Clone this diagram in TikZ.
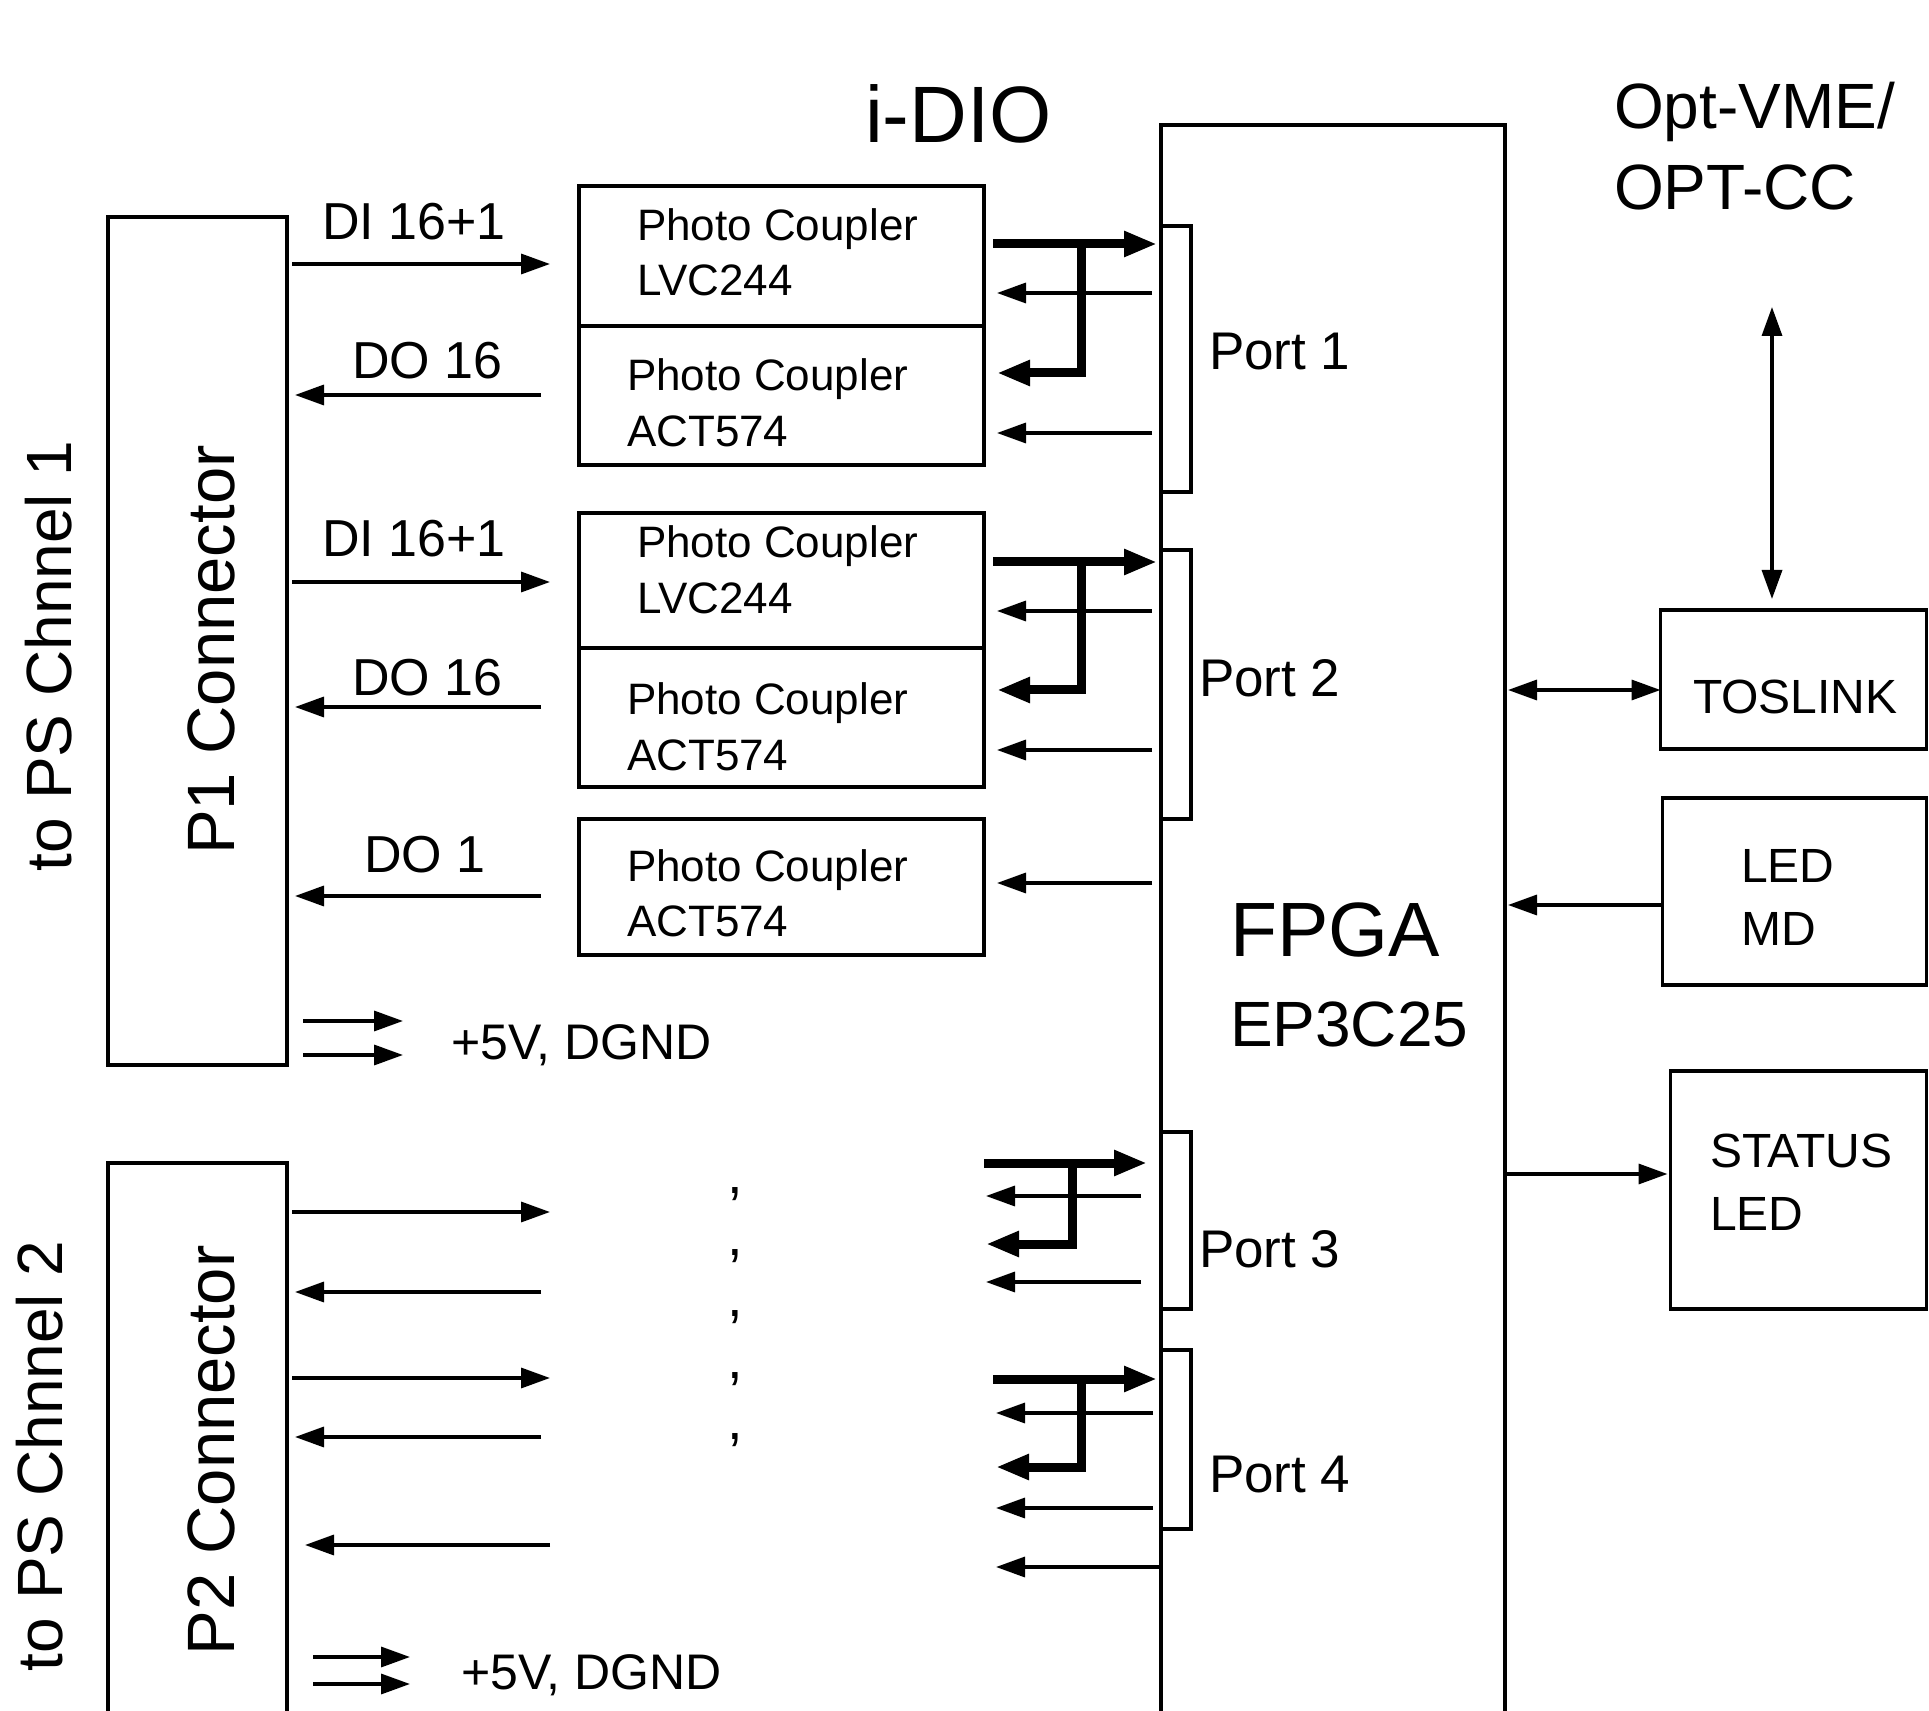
\documentclass[tikz,border=0pt]{standalone}
\usepackage{fontspec}
\setmainfont{Liberation Sans}
\usetikzlibrary{arrows.meta}
\newcommand{\myfs}[1]{\fontsize{#1pt}{#1pt}\selectfont}
\begin{document}
\begin{tikzpicture}[x=0.5pt,y=-0.5pt,
  box/.style={draw, line width=1.7pt, rectangle, inner sep=0pt, outer sep=0pt},
  arr/.style={line width=1.7pt, -{Triangle[length=14.5pt,width=10pt]}},
  darr/.style={line width=1.7pt, {Triangle[length=14.5pt,width=10pt]}-{Triangle[length=14.5pt,width=10pt]}},
  tarr/.style={line width=4.5pt, -{Triangle[length=16.5pt,width=12pt]}},
  lbl/.style={anchor=base west, inner sep=0pt, outer sep=0pt},
]
\clip (0,0) rectangle (1929,1711);
\fill[white] (0,0) rectangle (1929,1711);

% ---------- boxes ----------
\node[box, minimum width=89.5pt, minimum height=424pt] (p1) at (197.5,641) {};
\node[box, minimum width=89.5pt, minimum height=283.5pt] (p2) at (197.5,1446.5) {};
\node[box, minimum width=172pt, minimum height=802.5pt] (fpga) at (1333,927.5) {};
\node[box, minimum width=202.5pt, minimum height=70pt] (pc1a) at (781.5,256) {};
\node[box, minimum width=202.5pt, minimum height=69.5pt] (pc1b) at (781.5,395.5) {};
\node[box, minimum width=202.5pt, minimum height=67.5pt] (pc2a) at (781.5,580.5) {};
\node[box, minimum width=202.5pt, minimum height=69.5pt] (pc2b) at (781.5,717.5) {};
\node[box, minimum width=202.5pt, minimum height=68pt] (pc3) at (781.5,887) {};
\node[box, minimum width=15pt, minimum height=133pt] (port1) at (1176,359) {};
\node[box, minimum width=15pt, minimum height=134.5pt] (port2) at (1176,684.5) {};
\node[box, minimum width=15pt, minimum height=88.5pt] (port3) at (1176,1220.5) {};
\node[box, minimum width=15pt, minimum height=89.5pt] (port4) at (1176,1439.5) {};
\node[box, minimum width=133pt, minimum height=69.5pt] (tos) at (1793.5,679.5) {};
\node[box, minimum width=132pt, minimum height=93.5pt] (ledmd) at (1794.5,891.5) {};
\node[box, minimum width=128pt, minimum height=119pt] (stat) at (1798.5,1190) {};

% ---------- texts ----------
\node[lbl, font=\myfs{40}] (idio) at (865,143) {i-DIO};
\node[lbl, font=\myfs{32}] (optvme) at (1614,129) {Opt-VME/};
\node[lbl, font=\myfs{32}] (optcc) at (1614,210) {OPT-CC};
\node[lbl, font=\myfs{38.5}] (fpgat) at (1230,956) {FPGA};
\node[lbl, font=\myfs{32}] (ep) at (1230,1046) {EP3C25};
\node[lbl, font=\myfs{26.5}] (pt1) at (1209,370) {Port 1};
\node[lbl, font=\myfs{26.5}] (pt2) at (1199,697) {Port 2};
\node[lbl, font=\myfs{26.5}] (pt3) at (1199,1267) {Port 3};
\node[lbl, font=\myfs{26.5}] (pt4) at (1209,1492) {Port 4};
\node[lbl, font=\myfs{24}] (tost) at (1693,714) {TOSLINK};
\node[lbl, font=\myfs{24}] (led1) at (1741,882) {LED};
\node[lbl, font=\myfs{24}] (md) at (1741,945) {MD};
\node[lbl, font=\myfs{24}] (stt) at (1710,1167) {STATUS};
\node[lbl, font=\myfs{24}] (led2) at (1710,1230) {LED};

\node[lbl, font=\myfs{22}] (t1a) at (637,241) {Photo Coupler};
\node[lbl, font=\myfs{22}] (t1b) at (637,296) {LVC244};
\node[lbl, font=\myfs{22}] (t2a) at (627,391) {Photo Coupler};
\node[lbl, font=\myfs{22}] (t2b) at (627,447) {ACT574};
\node[lbl, font=\myfs{22}] (t3a) at (637,558) {Photo Coupler};
\node[lbl, font=\myfs{22}] (t3b) at (637,614) {LVC244};
\node[lbl, font=\myfs{22}] (t4a) at (627,715) {Photo Coupler};
\node[lbl, font=\myfs{22}] (t4b) at (627,770) {ACT574};
\node[lbl, font=\myfs{22}] (t5a) at (627,881) {Photo Coupler};
\node[lbl, font=\myfs{22}] (t5b) at (627,936) {ACT574};

\node[lbl, font=\myfs{26}] (di1) at (322,240) {DI 16+1};
\node[lbl, font=\myfs{26}] (do1) at (352,379) {DO 16};
\node[lbl, font=\myfs{26}] (di2) at (322,557) {DI 16+1};
\node[lbl, font=\myfs{26}] (do2) at (352,696) {DO 16};
\node[lbl, font=\myfs{26}] (do3) at (364,872) {DO 1};
\node[lbl, font=\myfs{25}] (pw1) at (451,1059) {+5V, DGND};
\node[lbl, font=\myfs{25}] (pw2) at (461,1689) {+5V, DGND};

\foreach \yy/\nm in {1193/c1,1255/c2,1316/c3,1378/c4,1439/c5}
  \node[lbl, font=\myfs{28}] (\nm) at (727,\yy) {,};

\node[lbl, rotate=90, font=\myfs{32}] (ch1) at (71,871) {to PS Chnnel 1};
\node[lbl, rotate=90, font=\myfs{32}] (ch2) at (62,1671) {to PS Chnnel 2};
\node[lbl, rotate=90, font=\myfs{33.5}] (p1t) at (234,855) {P1 Connector};
\node[lbl, rotate=90, font=\myfs{33.5}] (p2t) at (234,1655) {P2 Connector};

% ---------- left connectors ----------
\draw[arr, shorten <=2.5pt, shorten >=14.5pt] (p1.east |- 0,264) -- (pc1a.west |- 0,264);
\draw[arr, shorten <=19pt, shorten >=4pt] (pc1b.west |- 0,395) -- (p1.east |- 0,395);
\draw[arr, shorten <=2.5pt, shorten >=14.5pt] (p1.east |- 0,582) -- (pc2a.west |- 0,582);
\draw[arr, shorten <=19pt, shorten >=4pt] (pc2b.west |- 0,707) -- (p1.east |- 0,707);
\draw[arr, shorten <=19pt, shorten >=4pt] (pc3.west |- 0,896) -- (p1.east |- 0,896);
\draw[arr, shorten <=8pt] (p1.east |- 0,1021) -- ++(116,0);
\draw[arr, shorten <=8pt] (p1.east |- 0,1055) -- ++(116,0);

\coordinate (mR) at (550,0);
\coordinate (mL) at (541,0);
\draw[arr, shorten <=2.5pt] (p2.east |- 0,1212) -- (mR |- 0,1212);
\draw[arr, shorten >=4pt] (mL |- 0,1292) -- (p2.east |- 0,1292);
\draw[arr, shorten <=2.5pt] (p2.east |- 0,1378) -- (mR |- 0,1378);
\draw[arr, shorten >=4pt] (mL |- 0,1437) -- (p2.east |- 0,1437);
\draw[arr, shorten >=9pt] (mR |- 0,1545) -- (p2.east |- 0,1545);
\draw[arr, shorten <=13pt] (p2.east |- 0,1657) -- ++(123,0);
\draw[arr, shorten <=13pt] (p2.east |- 0,1684) -- ++(123,0);

% ---------- port group 1 ----------
\draw[tarr, shorten <=4.5pt, shorten >=2pt] (pc1a.east |- 0,244) -- (fpga.west |- 0,244);
\coordinate (j1) at (1081,244);
\draw[tarr, shorten >=6.5pt] (j1) -- (j1 |- 0,373) -- (pc1b.east |- 0,373);
\draw[arr, shorten <=4.5pt, shorten >=6.5pt] (fpga.west |- 0,293) -- (pc1a.east |- 0,293);
\draw[arr, shorten <=4.5pt, shorten >=6.5pt] (fpga.west |- 0,433) -- (pc1b.east |- 0,433);

% ---------- port group 2 ----------
\draw[tarr, shorten <=4.5pt, shorten >=2pt] (pc2a.east |- 0,562) -- (fpga.west |- 0,562);
\coordinate (j2) at (1081,562);
\draw[tarr, shorten >=6.5pt] (j2) -- (j2 |- 0,690) -- (pc2b.east |- 0,690);
\draw[arr, shorten <=4.5pt, shorten >=6.5pt] (fpga.west |- 0,611) -- (pc2a.east |- 0,611);
\draw[arr, shorten <=4.5pt, shorten >=6.5pt] (fpga.west |- 0,750) -- (pc2b.east |- 0,750);
\draw[arr, shorten <=4.5pt, shorten >=6.5pt] (fpga.west |- 0,883) -- (pc3.east |- 0,883);

% ---------- port group 3 ----------
\coordinate (g3) at (984,0);
\draw[tarr, shorten >=7pt] (g3 |- 0,1163) -- (fpga.west |- 0,1163);
\coordinate (j3) at (1072,1163);
\draw[tarr, shorten >=1pt] (j3) -- (j3 |- 0,1244) -- (g3 |- 0,1244);
\draw[arr, shorten <=10pt, shorten >=1pt] (fpga.west |- 0,1196) -- (g3 |- 0,1196);
\draw[arr, shorten <=10pt, shorten >=1pt] (fpga.west |- 0,1282) -- (g3 |- 0,1282);

% ---------- port group 4 ----------
\draw[tarr, shorten <=4.5pt, shorten >=2pt] (g3 |- 0,1379) -- (fpga.west |- 0,1379);
\coordinate (j4) at (1081,1379);
\draw[tarr, shorten >=6pt] (j4) -- (j4 |- 0,1467) -- (g3 |- 0,1467);
\draw[arr, shorten <=4pt, shorten >=6pt] (fpga.west |- 0,1413) -- (g3 |- 0,1413);
\draw[arr, shorten <=4pt, shorten >=6pt] (fpga.west |- 0,1508) -- (g3 |- 0,1508);
\draw[arr, shorten >=6pt] (fpga.west |- 0,1567) -- (g3 |- 0,1567);

% ---------- right side ----------
\draw[darr, shorten <=1.5pt] (fpga.east |- 0,690) -- (tos.west |- 0,690);
\draw[arr, shorten >=1.5pt] (ledmd.west |- 0,905) -- (fpga.east |- 0,905);
\draw[arr, shorten >=1.5pt] (fpga.east |- 0,1174) -- (stat.west |- 0,1174);
\coordinate (opt) at (1772,307);
\draw[darr, shorten >=5.5pt] (opt) -- (opt |- tos.north);
\end{tikzpicture}
\end{document}
